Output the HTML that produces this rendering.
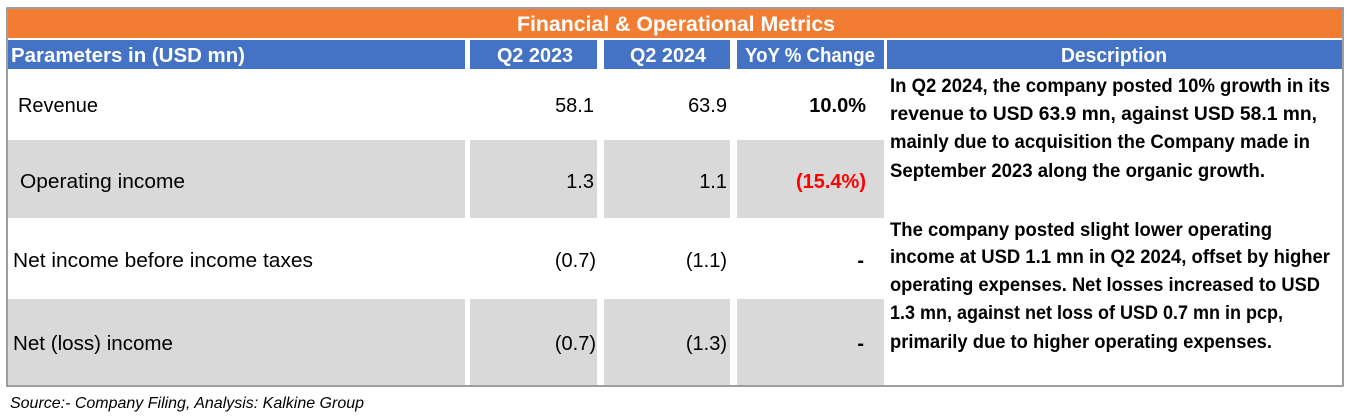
<!DOCTYPE html>
<html><head><meta charset="utf-8"><style>
body{margin:0;background:#fff;}
svg{display:block;font-family:"Liberation Sans",sans-serif;}
</style></head><body>
<svg width="1350" height="418">
<rect x="7" y="8" width="1336" height="378" fill="#fff" stroke="#7f7f7f" stroke-width="1.5"/>
<rect x="8" y="9" width="1334" height="29" fill="#f27d32"/>
<text x="676" y="31" text-anchor="middle" fill="#fff" font-weight="bold" font-size="21" textLength="318" lengthAdjust="spacingAndGlyphs">Financial &amp; Operational Metrics</text>
<g>
<rect x="8" y="40" width="457" height="29" fill="#4472c4"/>
<rect x="470" y="40" width="127" height="29" fill="#4472c4"/>
<rect x="604" y="40" width="126" height="29" fill="#4472c4"/>
<rect x="737" y="40" width="147" height="29" fill="#4472c4"/>
<rect x="887" y="40" width="455" height="29" fill="#4472c4"/>
<g fill="#fff" font-weight="bold" font-size="20">
<text x="11" y="62" textLength="234" lengthAdjust="spacingAndGlyphs">Parameters in (USD mn)</text>
<text x="535" y="62" text-anchor="middle" textLength="76" lengthAdjust="spacingAndGlyphs">Q2 2023</text>
<text x="668" y="62" text-anchor="middle" textLength="76" lengthAdjust="spacingAndGlyphs">Q2 2024</text>
<text x="810" y="62" text-anchor="middle" textLength="130" lengthAdjust="spacingAndGlyphs">YoY % Change</text>
<text x="1114" y="62" text-anchor="middle" textLength="106" lengthAdjust="spacingAndGlyphs">Description</text>
</g></g>
<g fill="#d9d9d9">
<rect x="8" y="140" width="457" height="78"/><rect x="470" y="140" width="127" height="78"/><rect x="604" y="140" width="126" height="78"/><rect x="737" y="140" width="147" height="78"/>
<rect x="8" y="299" width="457" height="86"/><rect x="470" y="299" width="127" height="86"/><rect x="604" y="299" width="126" height="86"/><rect x="737" y="299" width="147" height="86"/>
</g>
<g font-size="20" fill="#000">
<g><text x="18" y="112" textLength="80" lengthAdjust="spacingAndGlyphs">Revenue</text><text x="594" y="112" text-anchor="end">58.1</text><text x="727" y="112" text-anchor="end">63.9</text><text x="866" y="112" text-anchor="end" font-weight="bold">10.0%</text></g>
<g><text x="20" y="188" textLength="165" lengthAdjust="spacingAndGlyphs">Operating income</text><text x="594" y="188" text-anchor="end">1.3</text><text x="727" y="188" text-anchor="end">1.1</text><text x="866" y="188" text-anchor="end" font-weight="bold" fill="#ff0000">(15.4%)</text></g>
<g><text x="13" y="267" textLength="300" lengthAdjust="spacingAndGlyphs">Net income before income taxes</text><text x="596" y="267" text-anchor="end">(0.7)</text><text x="727" y="267" text-anchor="end">(1.1)</text><text x="864" y="267" text-anchor="end" font-weight="bold">-</text></g>
<g><text x="13" y="350" textLength="160" lengthAdjust="spacingAndGlyphs">Net (loss) income</text><text x="596" y="350" text-anchor="end">(0.7)</text><text x="727" y="350" text-anchor="end">(1.3)</text><text x="864" y="350" text-anchor="end" font-weight="bold">-</text></g>
</g>
<g font-size="19" font-weight="bold" fill="#000">
<text x="890" y="92" textLength="440" lengthAdjust="spacingAndGlyphs">In Q2 2024, the company posted 10% growth in its</text>
<text x="890" y="120" textLength="427" lengthAdjust="spacingAndGlyphs">revenue to USD 63.9 mn, against USD 58.1 mn,</text>
<text x="890" y="148" textLength="420" lengthAdjust="spacingAndGlyphs">mainly due to acquisition the Company made in</text>
<text x="890" y="177" textLength="375" lengthAdjust="spacingAndGlyphs">September 2023 along the organic growth.</text>
<text x="890" y="236" textLength="382" lengthAdjust="spacingAndGlyphs">The company posted slight lower operating</text>
<text x="890" y="263" textLength="440" lengthAdjust="spacingAndGlyphs">income at USD 1.1 mn in Q2 2024, offset by higher</text>
<text x="890" y="291" textLength="430" lengthAdjust="spacingAndGlyphs">operating expenses. Net losses increased to USD</text>
<text x="890" y="319" textLength="393" lengthAdjust="spacingAndGlyphs">1.3 mn, against  net loss of USD 0.7 mn in pcp,</text>
<text x="890" y="348" textLength="382" lengthAdjust="spacingAndGlyphs">primarily due to higher operating expenses.</text>
</g>
<text x="10" y="408" font-size="16" font-style="italic" fill="#000" textLength="354" lengthAdjust="spacingAndGlyphs">Source:- Company Filing, Analysis: Kalkine Group</text>
</svg>
</body></html>
